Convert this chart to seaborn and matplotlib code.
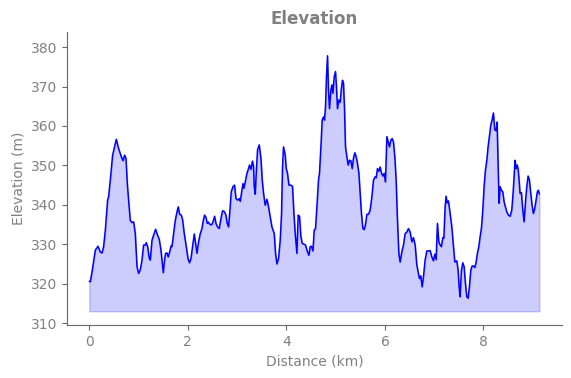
import matplotlib
matplotlib.use("Agg")
import matplotlib.pyplot as plt
import pandas as pd
import seaborn as sns

# distance (km) and elevation (m)
distance_km = [
    0.0, 0.02, 0.055, 0.122, 0.176, 0.223, 0.258, 0.29, 0.325, 0.371, 0.39, 0.426,
    0.473, 0.513, 0.548, 0.594, 0.649, 0.684, 0.716, 0.744, 0.771, 0.797, 0.832,
    0.866, 0.899, 0.933, 0.968, 1.0, 1.034, 1.069, 1.101, 1.136, 1.156, 1.183,
    1.217, 1.237, 1.272, 1.304, 1.345, 1.385, 1.42, 1.454, 1.481, 1.501, 1.527,
    1.548, 1.576, 1.602, 1.629, 1.657, 1.677, 1.71, 1.744, 1.779, 1.805, 1.832,
    1.866, 1.892, 1.927, 1.968, 2.002, 2.034, 2.063, 2.095, 2.13, 2.156, 2.185,
    2.217, 2.252, 2.286, 2.312, 2.339, 2.367, 2.394, 2.42, 2.448, 2.489, 2.521,
    2.542, 2.57, 2.602, 2.637, 2.671, 2.704, 2.738, 2.773, 2.799, 2.826, 2.854,
    2.88, 2.915, 2.947, 2.976, 3.008, 3.043, 3.063, 3.097, 3.118, 3.138, 3.164,
    3.199, 3.231, 3.252, 3.28, 3.312, 3.333, 3.347, 3.367, 3.387, 3.414, 3.448,
    3.483, 3.509, 3.536, 3.57, 3.605, 3.637, 3.671, 3.706, 3.726, 3.753, 3.779,
    3.807, 3.84, 3.874, 3.901, 3.921, 3.941, 3.976, 3.996, 4.022, 4.051, 4.091,
    4.124, 4.152, 4.179, 4.213, 4.239, 4.266, 4.294, 4.321, 4.361, 4.387, 4.428,
    4.456, 4.483, 4.509, 4.538, 4.564, 4.59, 4.619, 4.651, 4.671, 4.7, 4.726,
    4.753, 4.773, 4.793, 4.813, 4.834, 4.854, 4.874, 4.903, 4.923, 4.943, 4.97,
    4.996, 5.016, 5.036, 5.065, 5.091, 5.112, 5.138, 5.158, 5.178, 5.199, 5.227,
    5.254, 5.28, 5.308, 5.335, 5.361, 5.389, 5.416, 5.442, 5.471, 5.497, 5.523,
    5.552, 5.578, 5.604, 5.633, 5.665, 5.7, 5.734, 5.767, 5.801, 5.822, 5.848,
    5.876, 5.903, 5.929, 5.957, 5.984, 6.01, 6.039, 6.065, 6.091, 6.12, 6.146,
    6.172, 6.201, 6.227, 6.254, 6.282, 6.308, 6.343, 6.375, 6.41, 6.444, 6.477,
    6.511, 6.546, 6.578, 6.613, 6.647, 6.679, 6.7, 6.728, 6.755, 6.781, 6.815,
    6.85, 6.882, 6.917, 6.951, 6.984, 7.012, 7.039, 7.065, 7.093, 7.12, 7.146,
    7.174, 7.195, 7.221, 7.241, 7.262, 7.288, 7.323, 7.357, 7.39, 7.418, 7.458,
    7.485, 7.505, 7.525, 7.552, 7.58, 7.606, 7.633, 7.661, 7.688, 7.714, 7.742,
    7.769, 7.795, 7.824, 7.85, 7.876, 7.905, 7.931, 7.957, 7.986, 8.012, 8.039,
    8.067, 8.093, 8.12, 8.148, 8.174, 8.201, 8.229, 8.256, 8.276, 8.296, 8.316,
    8.337, 8.363, 8.391, 8.418, 8.444, 8.473, 8.505, 8.54, 8.574, 8.6, 8.621,
    8.641, 8.661, 8.682, 8.702, 8.722, 8.742, 8.769, 8.797, 8.824, 8.85, 8.878,
    8.905, 8.931, 8.959, 8.986, 9.012, 9.041, 9.067, 9.093, 9.114, 9.134,
]
elevation_m = [
    320.6, 320.5, 323.0, 328.5, 329.5, 328.0, 327.8, 329.4, 333.6, 341.2, 342.0, 346.3,
    352.6, 354.7, 356.6, 354.3, 352.2, 351.2, 352.6, 351.8, 345.4, 341.2, 336.0,
    335.5, 335.7, 332.7, 324.3, 322.6, 323.5, 326.0, 329.8, 329.8, 330.4, 329.4,
    326.4, 326.0, 331.0, 332.3, 333.8, 332.3, 331.2, 328.5, 325.1, 322.8, 326.0,
    327.7, 327.8, 326.8, 328.0, 329.5, 329.4, 332.7, 336.0, 338.2, 339.5, 337.6,
    337.4, 336.3, 332.7, 329.4, 326.4, 325.3, 326.4, 329.4, 332.6, 330.2, 327.7,
    330.6, 332.7, 334.0, 336.0, 337.4, 336.8, 335.3, 335.6, 335.0, 335.0, 336.1,
    337.1, 335.3, 334.4, 334.0, 336.5, 338.5, 338.3, 337.4, 335.3, 334.4, 338.7,
    343.3, 344.6, 345.0, 341.6, 341.2, 341.6, 340.9, 343.7, 345.4, 344.2, 345.8,
    348.0, 349.2, 350.1, 349.0, 351.1, 349.7, 344.6, 342.7, 348.0, 353.9, 355.2,
    351.8, 346.3, 342.9, 339.9, 341.4, 339.5, 337.0, 334.4, 333.7, 332.7, 327.7,
    325.0, 326.4, 331.0, 337.8, 349.6, 354.7, 352.6, 349.2, 348.0, 345.0, 345.0,
    344.7, 337.8, 332.7, 327.7, 337.4, 337.1, 331.9, 330.2, 330.0, 329.8, 328.1,
    327.2, 329.4, 329.5, 328.3, 333.6, 333.9, 339.5, 346.3, 348.0, 354.7, 361.5,
    362.3, 361.5, 364.8, 372.5, 377.8, 369.1, 364.4, 369.1, 370.4, 368.3, 372.5,
    373.8, 370.0, 364.4, 366.6, 366.0, 369.1, 371.6, 370.9, 364.8, 354.7, 352.2,
    350.1, 351.3, 351.2, 349.2, 351.8, 353.2, 352.2, 350.5, 348.0, 342.9, 337.8,
    334.0, 333.7, 334.9, 337.6, 337.6, 338.7, 342.0, 346.3, 347.1, 346.9, 349.2,
    348.5, 349.6, 348.0, 347.3, 348.0, 345.8, 357.3, 356.0, 354.7, 356.4, 356.8,
    356.0, 352.0, 346.3, 336.1, 327.7, 325.5, 328.1, 329.8, 332.7, 333.1, 334.0,
    333.1, 330.6, 331.7, 329.8, 324.7, 322.6, 321.3, 322.0, 319.2, 321.7, 326.0,
    328.3, 328.3, 328.4, 326.8, 325.8, 327.5, 326.1, 335.3, 330.6, 329.8, 329.4,
    331.7, 331.5, 339.5, 342.2, 340.5, 341.0, 337.8, 334.4, 329.4, 325.5, 325.8,
    323.4, 319.2, 316.7, 323.4, 325.3, 324.3, 320.1, 316.7, 316.3, 319.2, 323.4,
    324.5, 324.5, 324.1, 325.5, 327.7, 329.4, 331.9, 334.0, 338.7, 344.6, 348.8,
    351.3, 354.7, 357.3, 360.2, 361.5, 363.3, 359.0, 358.8, 361.0, 350.5, 340.4,
    344.6, 343.7, 343.3, 340.8, 339.5, 338.2, 337.4, 337.1, 338.7, 342.9, 347.1,
    351.3, 349.2, 350.1, 349.2, 346.3, 342.9, 343.1, 338.7, 335.7, 340.4, 344.6,
    347.3, 346.3, 342.9, 339.9, 337.8, 339.1, 341.2, 343.3, 343.7, 342.7,
]
fill_base = 313.0

df = pd.DataFrame({"distance": distance_km, "elevation": elevation_m})

sns.set_style("ticks")
text_color = "gray"

fig = plt.figure(figsize=(5.71, 3.78), dpi=100)
ax = fig.add_axes([0.117, 0.14, 0.867, 0.775])

sns.lineplot(data=df, x="distance", y="elevation", color="blue", linewidth=1.1, ax=ax)
ax.fill_between(df["distance"], df["elevation"], fill_base, color="blue", alpha=0.2)

ax.set_ylim(309.5, 383.8)
ax.set_yticks([310, 320, 330, 340, 350, 360, 370, 380])
ax.set_xticks([0, 2, 4, 6, 8])

ax.set_title("Elevation", fontsize=12, fontweight="bold", color=text_color)
ax.set_xlabel("Distance (km)", fontsize=10, color=text_color)
ax.set_ylabel("Elevation (m)", fontsize=10, color=text_color)
ax.tick_params(colors="dimgray", labelcolor=text_color, labelsize=10)
for side in ["left", "bottom"]:
    ax.spines[side].set_color("dimgray")
sns.despine(ax=ax)

fig.savefig("out.png", dpi=100)
